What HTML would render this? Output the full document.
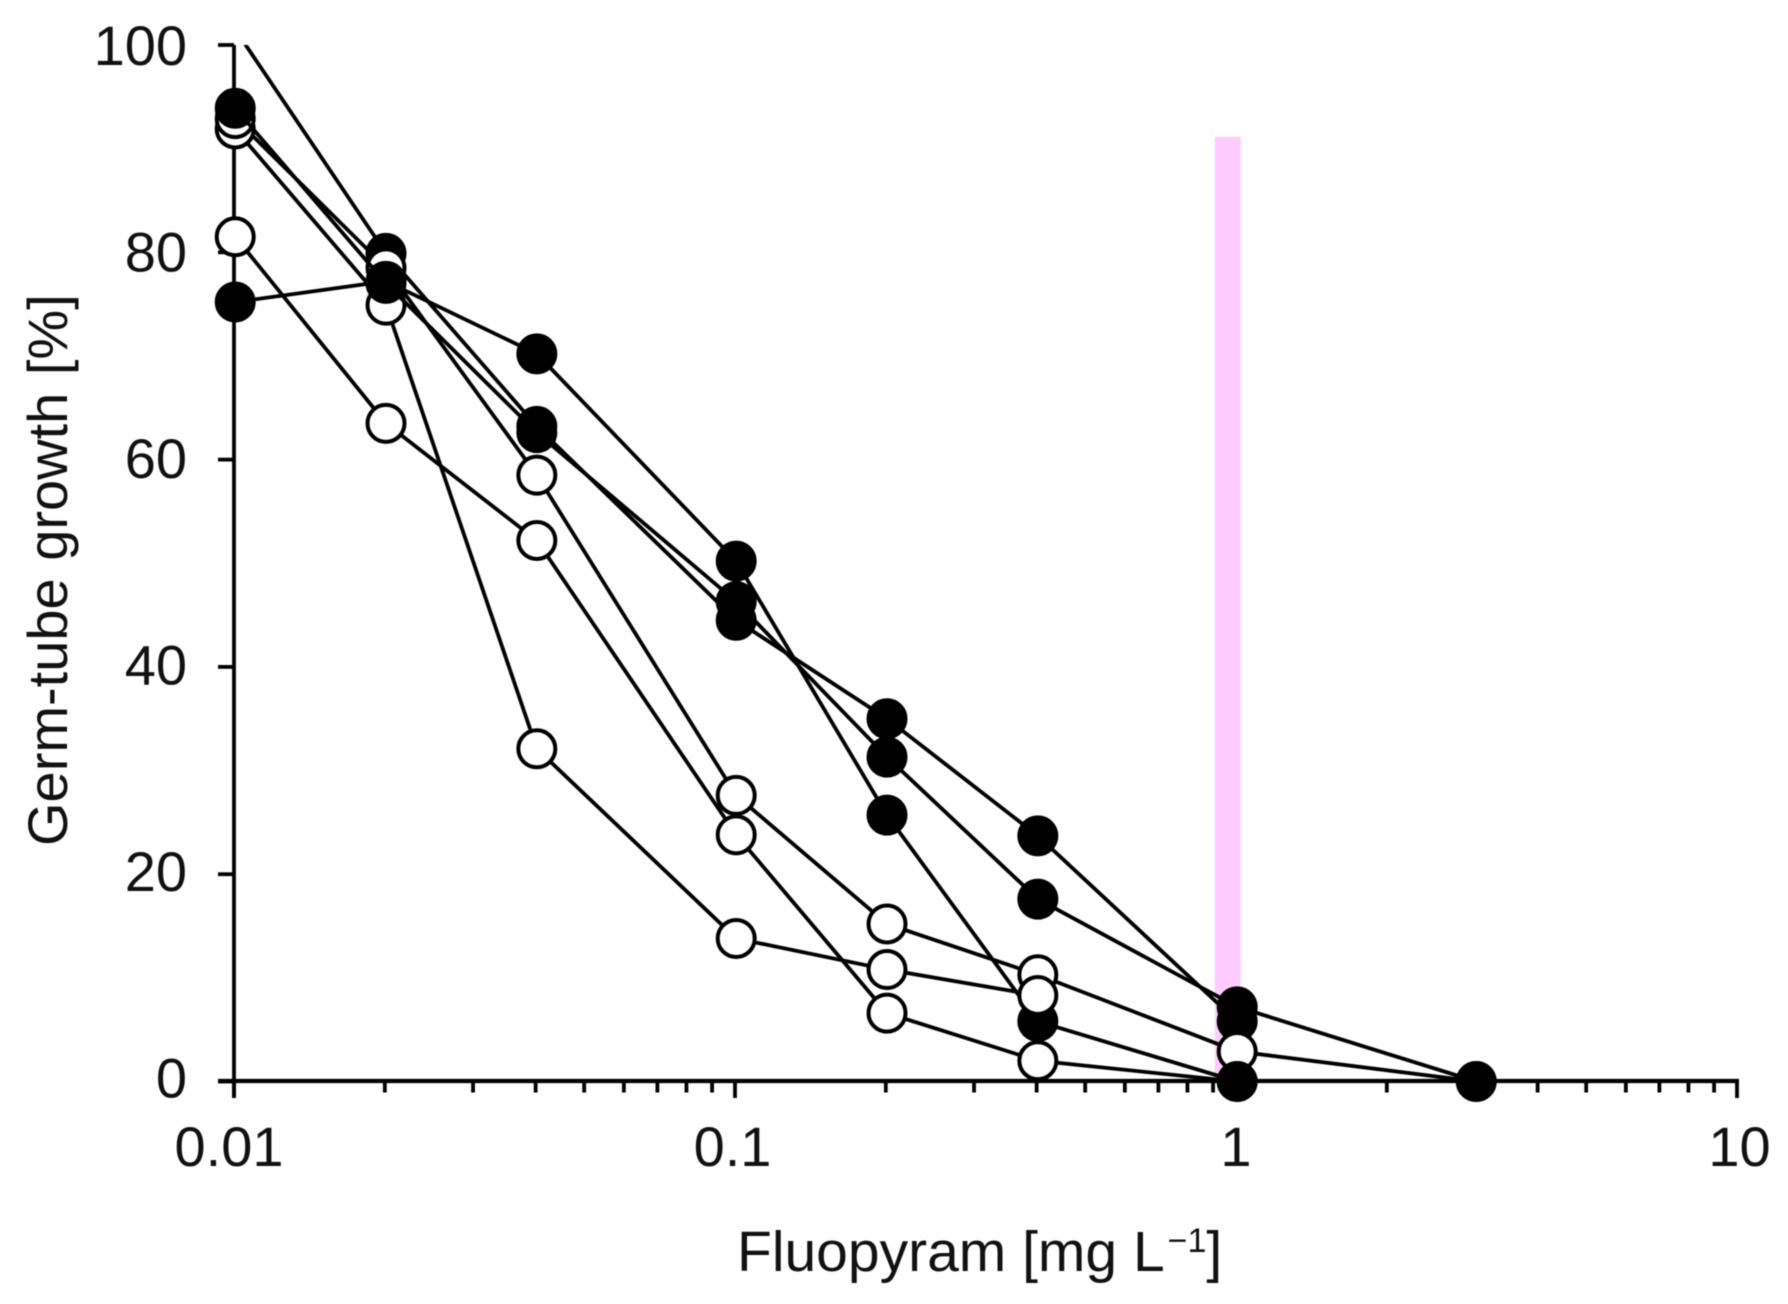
<!DOCTYPE html>
<html>
<head>
<meta charset="utf-8">
<title>Germ-tube growth vs Fluopyram</title>
<style>
html,body{margin:0;padding:0;background:#fff;}
svg{display:block;filter:blur(0.6px);}
text{font-family:"Liberation Sans",sans-serif;font-size:56px;fill:#111;}
</style>
</head>
<body>
<svg id="chart" width="1788" height="1304" viewBox="0 0 1788 1304" xmlns="http://www.w3.org/2000/svg">
<rect x="0" y="0" width="1788" height="1304" fill="#fff"/>
<defs><clipPath id="plot-clip"><rect x="180" y="45" width="1600" height="1060"/></clipPath></defs>
<g id="band"></g>
<g id="axes"></g>
<g id="series"></g>
<text x="737" y="1271" style="font-size:57px">Fluopyram [mg L<tspan style="font-size:34px" dx="3" dy="-19">−1</tspan><tspan dy="19">]</tspan></text>
<text transform="translate(67,846) rotate(-90)" x="0" y="0" style="font-size:56px;word-spacing:2px">Germ-tube growth [%]</text>
</svg>
<script>
var concentrations = [0.01, 0.02, 0.04, 0.1, 0.2, 0.4, 1, 3];
var seriesA = [101.5, 79.9, 63.2, 44.5, 35.0, 23.7, 5.8, null];
var seriesOpen1 = [92.9, 78.5, 58.5, 27.6, 15.2, 10.3, 2.9, 0];
var seriesOpen3 = [81.5, 63.5, 52.2, 23.8, 6.6, 2.0, 0, null];
var seriesC = [75.2, 77.2, 70.2, 50.2, 25.7, 5.8, 0, null];
var seriesOpen2 = [91.9, 74.9, 32.1, 13.8, 10.8, 8.3, null, null];
var seriesB = [93.9, 77.0, 62.6, 46.3, 31.3, 17.6, 7.2, 0];
var yTicks = [0, 20, 40, 60, 80, 100];
var xMajorTicks = [0.01, 0.1, 1, 10];
var xMajorLabels = ["0.01", "0.1", "1", "10"];
var xMinorMultiples = [2, 3, 4, 5, 6, 7, 8, 9];
var xMinorDecades = [0.01, 0.1, 1];
var bandRange = [0.907, 1.022];
var bandTop = 91.15;

var svgNS = "http://www.w3.org/2000/svg";
function xScale(v) { return 234 + 501 * (Math.log(v) / Math.LN10 + 2); }
function markX(v) { return xScale(v) + 1.2; }
function yScale(v) { return 1081.5 - 10.365 * v; }
function make(tag, parent, attrs) {
  var el = document.createElementNS(svgNS, tag);
  for (var k in attrs) { el.setAttribute(k, attrs[k]); }
  parent.appendChild(el);
  return el;
}

var bandLayer = document.getElementById("band");
var axesLayer = document.getElementById("axes");
var seriesLayer = document.getElementById("series");

var band = make("rect", bandLayer, {
  x: xScale(bandRange[0]), y: yScale(bandTop),
  width: xScale(bandRange[1]) - xScale(bandRange[0]),
  height: yScale(0) - yScale(bandTop), fill: "#ffccff"
});



var yAxisLine = make("line", axesLayer, { x1: xScale(0.01), x2: xScale(0.01), y1: yScale(100), y2: yScale(0) + 16.5, stroke: "#000", "stroke-width": 3.8 });


var xAxisLine = make("line", axesLayer, { x1: 218, x2: xScale(10) + 2, y1: yScale(0) - 0.5, y2: yScale(0) - 0.5, stroke: "#000", "stroke-width": 4.2 });



yTicks.forEach(function (t) {
  var tick = make("line", axesLayer, { x1: 218, x2: xScale(0.01), y1: yScale(t), y2: yScale(t), stroke: "#000", "stroke-width": 3.8 });
  
  
  var label = make("text", axesLayer, { x: 187, y: 65 + (100 - t) * 10.327, "text-anchor": "end" });
  label.textContent = String(t);
  
  
});

xMajorTicks.forEach(function (t, i) {
  var tick = make("line", axesLayer, { x1: xScale(t), x2: xScale(t), y1: yScale(0), y2: yScale(0) + 16.5, stroke: "#000", "stroke-width": 3.8 });
  
  
  var label = make("text", axesLayer, { x: xScale(t) - 5 + i * 2.5, y: 1166, "text-anchor": "middle" });
  label.textContent = xMajorLabels[i];
  
  
});

xMinorDecades.forEach(function (d) {
  xMinorMultiples.forEach(function (m) {
    var tick = make("line", axesLayer, { x1: xScale(d * m), x2: xScale(d * m), y1: yScale(0), y2: yScale(0) + 11, stroke: "#000", "stroke-width": 3.8 });
    
    
  });
});

function drawPoint(group, values, i, filled, name) {
  var c = make("circle", group, { cx: markX(concentrations[i]), cy: yScale(values[i]), r: 18.5, fill: filled ? "#000" : "#fff", stroke: "#000", "stroke-width": 4 });
  
  
}

function drawSeries(values, filled, name, deferFirst) {
  var group = make("g", seriesLayer, {});
  
  
  var pts = [];
  values.forEach(function (v, i) {
    if (v !== null) { pts.push(markX(concentrations[i]) + "," + yScale(v)); }
  });
  var line = make("polyline", group, { points: pts.join(" "), fill: "none", stroke: "#000", "stroke-width": 3.8, "stroke-linejoin": "round", "clip-path": "url(#plot-clip)" });
  
  
  values.forEach(function (v, i) {
    if (v === null || v > 100) { return; }
    if (deferFirst && i === 0) { return; }
    drawPoint(group, values, i, filled, name);
  });
  return group;
}

drawSeries(seriesA, true, "filled-series-a");
drawSeries(seriesOpen1, false, "open-series-1", true);
drawSeries(seriesOpen3, false, "open-series-3");
drawSeries(seriesC, true, "filled-series-c");
drawSeries(seriesOpen2, false, "open-series-2");
drawPoint(seriesLayer, seriesOpen1, 0, false, "open-series-1");
drawSeries(seriesB, true, "filled-series-b");
</script>
</body>
</html>
